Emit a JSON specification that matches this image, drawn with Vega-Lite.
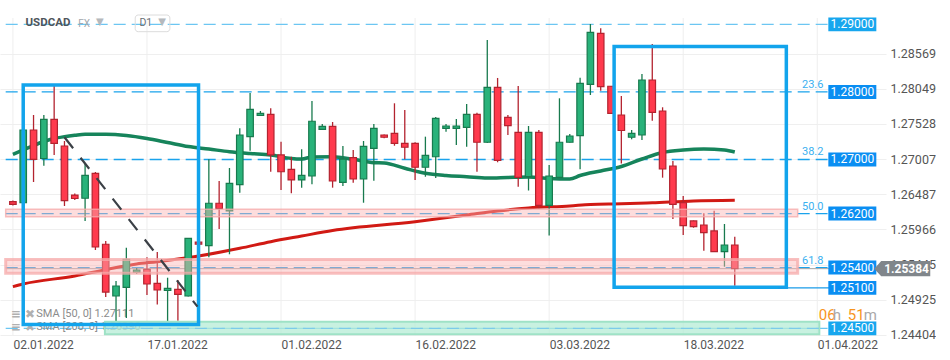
{
  "$schema": "https://vega.github.io/schema/vega-lite/v6.json",
  "width": 886,
  "height": 336,
  "padding": 0,
  "autosize": {"type": "pad"},
  "background": "white",
  "view": {"stroke": null},
  "config": {"font": "Roboto"},
  "datasets": {
    "dates": [
      {"g": 0, "date": "02.01.2022"}, {"g": 13, "date": "17.01.2022"}, {"g": 26, "date": "01.02.2022"},
      {"g": 39, "date": "16.02.2022"}, {"g": 52, "date": "03.03.2022"}, {"g": 65, "date": "18.03.2022"},
      {"g": 78, "date": "01.04.2022"}
    ],
    "candles": [
      {"i": 0, "o": 1.26375, "h": 1.26393, "l": 1.26319, "c": 1.26337},
      {"i": 1, "o": 1.26360, "h": 1.27444, "l": 1.26356, "c": 1.27437},
      {"i": 2, "o": 1.27437, "h": 1.27659, "l": 1.26667, "c": 1.27003},
      {"i": 3, "o": 1.27015, "h": 1.27659, "l": 1.26908, "c": 1.27595},
      {"i": 4, "o": 1.27595, "h": 1.28088, "l": 1.27067, "c": 1.27240},
      {"i": 5, "o": 1.27200, "h": 1.27274, "l": 1.26312, "c": 1.26390},
      {"i": 6, "o": 1.26474, "h": 1.26497, "l": 1.26400, "c": 1.26423},
      {"i": 7, "o": 1.26426, "h": 1.26948, "l": 1.26090, "c": 1.26766},
      {"i": 8, "o": 1.26796, "h": 1.26815, "l": 1.25660, "c": 1.25705},
      {"i": 9, "o": 1.25745, "h": 1.25793, "l": 1.24965, "c": 1.25038},
      {"i": 10, "o": 1.24979, "h": 1.25201, "l": 1.24594, "c": 1.25127},
      {"i": 11, "o": 1.25108, "h": 1.25694, "l": 1.24654, "c": 1.25523},
      {"i": 12, "o": 1.25330, "h": 1.25394, "l": 1.25305, "c": 1.25364},
      {"i": 13, "o": 1.25372, "h": 1.25552, "l": 1.24994, "c": 1.25157},
      {"i": 14, "o": 1.25167, "h": 1.25631, "l": 1.24853, "c": 1.25068},
      {"i": 15, "o": 1.25061, "h": 1.25250, "l": 1.24609, "c": 1.25093},
      {"i": 16, "o": 1.25078, "h": 1.25216, "l": 1.24614, "c": 1.25004},
      {"i": 17, "o": 1.24979, "h": 1.25838, "l": 1.24972, "c": 1.25833},
      {"i": 18, "o": 1.25776, "h": 1.25779, "l": 1.25742, "c": 1.25746},
      {"i": 19, "o": 1.25724, "h": 1.27003, "l": 1.25552, "c": 1.26352},
      {"i": 20, "o": 1.26352, "h": 1.26682, "l": 1.25971, "c": 1.26272},
      {"i": 21, "o": 1.26238, "h": 1.26874, "l": 1.25597, "c": 1.26648},
      {"i": 22, "o": 1.26627, "h": 1.27462, "l": 1.26509, "c": 1.27363},
      {"i": 23, "o": 1.27338, "h": 1.27984, "l": 1.27130, "c": 1.27743},
      {"i": 24, "o": 1.27651, "h": 1.27718, "l": 1.27648, "c": 1.27684},
      {"i": 25, "o": 1.27669, "h": 1.27758, "l": 1.26819, "c": 1.27067},
      {"i": 26, "o": 1.27067, "h": 1.27264, "l": 1.26549, "c": 1.26819},
      {"i": 27, "o": 1.26855, "h": 1.27041, "l": 1.26500, "c": 1.26697},
      {"i": 28, "o": 1.26697, "h": 1.27151, "l": 1.26583, "c": 1.26766},
      {"i": 29, "o": 1.26756, "h": 1.27866, "l": 1.26633, "c": 1.27566},
      {"i": 30, "o": 1.27447, "h": 1.27526, "l": 1.27444, "c": 1.27491},
      {"i": 31, "o": 1.27491, "h": 1.27555, "l": 1.26583, "c": 1.26682},
      {"i": 32, "o": 1.26662, "h": 1.27200, "l": 1.26608, "c": 1.27007},
      {"i": 33, "o": 1.27027, "h": 1.27141, "l": 1.26657, "c": 1.26711},
      {"i": 34, "o": 1.26711, "h": 1.27274, "l": 1.26360, "c": 1.27195},
      {"i": 35, "o": 1.27166, "h": 1.27526, "l": 1.26686, "c": 1.27462},
      {"i": 36, "o": 1.27363, "h": 1.27370, "l": 1.27314, "c": 1.27329},
      {"i": 37, "o": 1.27388, "h": 1.27832, "l": 1.27204, "c": 1.27240},
      {"i": 38, "o": 1.27240, "h": 1.27733, "l": 1.27003, "c": 1.27181},
      {"i": 39, "o": 1.27240, "h": 1.27255, "l": 1.26697, "c": 1.26885},
      {"i": 40, "o": 1.26885, "h": 1.27338, "l": 1.26745, "c": 1.27062},
      {"i": 41, "o": 1.27041, "h": 1.27629, "l": 1.26726, "c": 1.27610},
      {"i": 42, "o": 1.27462, "h": 1.27526, "l": 1.27412, "c": 1.27496},
      {"i": 43, "o": 1.27462, "h": 1.27600, "l": 1.27215, "c": 1.27496},
      {"i": 44, "o": 1.27477, "h": 1.27822, "l": 1.27189, "c": 1.27669},
      {"i": 45, "o": 1.27669, "h": 1.27693, "l": 1.26819, "c": 1.27255},
      {"i": 46, "o": 1.27255, "h": 1.28769, "l": 1.27244, "c": 1.28069},
      {"i": 47, "o": 1.28069, "h": 1.28207, "l": 1.26959, "c": 1.26988},
      {"i": 48, "o": 1.27625, "h": 1.27659, "l": 1.27363, "c": 1.27500},
      {"i": 49, "o": 1.27403, "h": 1.28088, "l": 1.26597, "c": 1.26736},
      {"i": 50, "o": 1.26745, "h": 1.27496, "l": 1.26541, "c": 1.27403},
      {"i": 51, "o": 1.27403, "h": 1.27437, "l": 1.26278, "c": 1.26322},
      {"i": 52, "o": 1.26322, "h": 1.26919, "l": 1.25875, "c": 1.26756},
      {"i": 53, "o": 1.26734, "h": 1.27906, "l": 1.26726, "c": 1.27255},
      {"i": 54, "o": 1.27255, "h": 1.27377, "l": 1.27252, "c": 1.27348},
      {"i": 55, "o": 1.27352, "h": 1.28211, "l": 1.26855, "c": 1.28128},
      {"i": 56, "o": 1.28113, "h": 1.29006, "l": 1.27955, "c": 1.28883},
      {"i": 57, "o": 1.28868, "h": 1.28942, "l": 1.28019, "c": 1.28078},
      {"i": 58, "o": 1.28084, "h": 1.28088, "l": 1.27674, "c": 1.27684},
      {"i": 59, "o": 1.27659, "h": 1.27940, "l": 1.26941, "c": 1.27429},
      {"i": 60, "o": 1.27329, "h": 1.27437, "l": 1.27299, "c": 1.27388},
      {"i": 61, "o": 1.27363, "h": 1.28266, "l": 1.27289, "c": 1.28177},
      {"i": 62, "o": 1.28177, "h": 1.28710, "l": 1.27574, "c": 1.27699},
      {"i": 63, "o": 1.27718, "h": 1.27773, "l": 1.26731, "c": 1.26859},
      {"i": 64, "o": 1.26904, "h": 1.26978, "l": 1.26119, "c": 1.26337},
      {"i": 65, "o": 1.26360, "h": 1.26460, "l": 1.25882, "c": 1.26020},
      {"i": 66, "o": 1.26090, "h": 1.26097, "l": 1.25990, "c": 1.26005},
      {"i": 67, "o": 1.26030, "h": 1.26204, "l": 1.25650, "c": 1.25916},
      {"i": 68, "o": 1.25942, "h": 1.26242, "l": 1.25635, "c": 1.25635},
      {"i": 69, "o": 1.25635, "h": 1.26045, "l": 1.25413, "c": 1.25734},
      {"i": 70, "o": 1.25734, "h": 1.25857, "l": 1.25132, "c": 1.25384}
    ],
    "sma50": [
      {"i": 0, "v": 1.27077}, {"i": 1, "v": 1.27141}, {"i": 2, "v": 1.27207}, {"i": 3, "v": 1.27266},
      {"i": 4, "v": 1.27311}, {"i": 5, "v": 1.27338}, {"i": 6, "v": 1.27358}, {"i": 7, "v": 1.27373},
      {"i": 9, "v": 1.27373}, {"i": 11, "v": 1.27355}, {"i": 13, "v": 1.27311}, {"i": 15, "v": 1.27252},
      {"i": 17, "v": 1.27192}, {"i": 19, "v": 1.27155}, {"i": 21, "v": 1.27115}, {"i": 23, "v": 1.27089},
      {"i": 25, "v": 1.27067}, {"i": 27, "v": 1.27015}, {"i": 28, "v": 1.27007}, {"i": 29, "v": 1.27037},
      {"i": 31, "v": 1.27041}, {"i": 33, "v": 1.27003}, {"i": 35, "v": 1.26953}, {"i": 36, "v": 1.26948},
      {"i": 38, "v": 1.26870}, {"i": 40, "v": 1.26796}, {"i": 42, "v": 1.26763}, {"i": 44, "v": 1.26745},
      {"i": 46, "v": 1.26726}, {"i": 48, "v": 1.26734}, {"i": 50, "v": 1.26741}, {"i": 52, "v": 1.26719},
      {"i": 54, "v": 1.26711}, {"i": 55, "v": 1.26763}, {"i": 57, "v": 1.26830}, {"i": 59, "v": 1.26896},
      {"i": 61, "v": 1.27007}, {"i": 63, "v": 1.27104}, {"i": 65, "v": 1.27141}, {"i": 67, "v": 1.27155},
      {"i": 69, "v": 1.27141}, {"i": 70, "v": 1.27111}
    ],
    "sma200": [
      {"i": 0, "v": 1.25117}, {"i": 1, "v": 1.25157}, {"i": 6, "v": 1.25275}, {"i": 9, "v": 1.25369},
      {"i": 12, "v": 1.25453}, {"i": 14, "v": 1.25487}, {"i": 18, "v": 1.25571}, {"i": 22, "v": 1.25685},
      {"i": 25, "v": 1.25783}, {"i": 28, "v": 1.25867}, {"i": 31, "v": 1.25949}, {"i": 39, "v": 1.26079},
      {"i": 44, "v": 1.26178}, {"i": 47, "v": 1.26238}, {"i": 50, "v": 1.26282}, {"i": 54, "v": 1.26312},
      {"i": 56, "v": 1.26334}, {"i": 59, "v": 1.26344}, {"i": 62, "v": 1.26360}, {"i": 66, "v": 1.26386},
      {"i": 70, "v": 1.26396}
    ],
    "levels": [
      {"p": 1.29, "tag": "1.29000", "fib": ""},
      {"p": 1.28, "tag": "1.28000", "fib": "23.6"},
      {"p": 1.27, "tag": "1.27000", "fib": "38.2"},
      {"p": 1.262, "tag": "1.26200", "fib": "50.0"},
      {"p": 1.254, "tag": "1.25400", "fib": "61.8"},
      {"p": 1.251, "tag": "1.25100", "fib": ""},
      {"p": 1.245, "tag": "1.24500", "fib": ""}
    ],
    "pinkbands": [
      {"start": -0.7, "end": 76.1, "lo": 1.26153, "hi": 1.26263, "w": 1.5},
      {"start": -0.7, "end": 76.1, "lo": 1.25317, "hi": 1.25520, "w": 3}
    ],
    "greenband": [
      {"start": 8.92, "end": 78.2, "lo": 1.24413, "hi": 1.24599}
    ],
    "boxes": [
      {"start": 1.0, "end": 18.0, "top": 1.28103, "bottom": 1.24557},
      {"start": 58.3, "end": 75.0, "top": 1.28673, "bottom": 1.25108}
    ],
    "legend": [
      {"name": "SMA  [50,  0]  1.27111", "p": 1.24717},
      {"name": "SMA  [200,  0]  1.26390", "p": 1.24513}
    ]
  },
  "layer": [
    {
      "data": {"name": "dates"},
      "mark": {"type": "rule", "color": "#eeeeee", "strokeWidth": 1},
      "encoding": {
        "x": {"field": "g", "type": "quantitative"},
        "y": {"datum": 1.29095},
        "y2": {"datum": 1.24387}
      }
    },
    {
      "data": {"name": "levels"},
      "transform": [{"filter": "datum.p != 1.251"}],
      "mark": {"type": "rule", "strokeWidth": 1.3, "strokeDash": [12, 6]},
      "encoding": {
        "x": {"datum": -0.7},
        "x2": {"datum": 79.0},
        "y": {"field": "p", "type": "quantitative"},
        "color": {"condition": {"test": "datum.p == 1.29 || datum.p == 1.245", "value": "#6cc6f2"}, "value": "#1aa3ec"}
      }
    },
    {
      "data": {"values": [{"price": 1.25384}]},
      "mark": {"type": "rule", "color": "#a3a3a3", "strokeWidth": 1},
      "encoding": {
        "x": {"datum": -0.7},
        "x2": {"datum": 84.8},
        "y": {"field": "price", "type": "quantitative"}
      }
    },
    {
      "data": {"name": "legend"},
      "mark": {"type": "text", "align": "left", "baseline": "middle", "fontSize": 11, "color": "#8c8c8c"},
      "encoding": {
        "x": {"datum": 2.27},
        "y": {"field": "p", "type": "quantitative"},
        "text": {"field": "name"}
      }
    },
    {
      "data": {"name": "legend"},
      "mark": {"type": "text", "align": "left", "baseline": "middle", "fontSize": 12, "fontWeight": "bold", "color": "#b0b0b0", "font": "DejaVu Sans"},
      "encoding": {
        "x": {"datum": -0.2},
        "y": {"field": "p", "type": "quantitative"},
        "text": {"value": "≡ ✖"}
      }
    },
    {
      "data": {"name": "sma200"},
      "mark": {"type": "line", "color": "#d11a14", "strokeWidth": 3, "interpolate": "monotone"},
      "encoding": {
        "x": {"field": "i", "type": "quantitative"},
        "y": {"field": "v", "type": "quantitative"}
      }
    },
    {
      "data": {"name": "sma50"},
      "mark": {"type": "line", "color": "#16845b", "strokeWidth": 3.5, "interpolate": "monotone"},
      "encoding": {
        "x": {"field": "i", "type": "quantitative"},
        "y": {"field": "v", "type": "quantitative"}
      }
    },
    {
      "data": {"name": "candles"},
      "mark": {"type": "rule", "strokeWidth": 1.3},
      "encoding": {
        "x": {
          "field": "i", "type": "quantitative",
          "scale": {"type": "linear", "domain": [-0.767, 84.18], "nice": false, "zero": false},
          "axis": {
            "title": null, "values": [0, 13, 26, 39, 52, 65, 78], "grid": false, "domain": false, "ticks": false,
            "labelAlign": "left", "labelFontSize": 12, "labelColor": "#555555", "labelPadding": 3,
            "labelFlush": false, "labelOverlap": false, "labelBound": false, "zindex": 0,
            "labelExpr": "datum.value == 0 ? '02.01.2022' : datum.value == 13 ? '17.01.2022' : datum.value == 26 ? '01.02.2022' : datum.value == 39 ? '16.02.2022' : datum.value == 52 ? '03.03.2022' : datum.value == 65 ? '18.03.2022' : datum.value == 78 ? '01.04.2022' : ''"
          }
        },
        "y": {
          "field": "l", "type": "quantitative",
          "scale": {"type": "linear", "domain": [1.243871, 1.293612], "nice": false, "zero": false},
          "axis": {
            "title": null, "orient": "right",
            "values": [1.24404, 1.24925, 1.25445, 1.25966, 1.26487, 1.27007, 1.27528, 1.28049, 1.28569],
            "format": ".5f", "grid": true, "gridColor": "#efefef", "domain": false, "ticks": false,
            "labelFontSize": 12.5, "labelColor": "#555555", "labelPadding": 4, "labelFlush": false,
            "labelOverlap": false, "labelBound": false, "zindex": 0
          }
        },
        "y2": {"field": "h"},
        "color": {"condition": {"test": "datum.c >= datum.o", "value": "#187a4e"}, "value": "#b3232f"}
      }
    },
    {
      "data": {"name": "candles"},
      "mark": {"type": "bar", "width": 6.5, "orient": "vertical", "strokeWidth": 1.2},
      "encoding": {
        "x": {"field": "i", "type": "quantitative"},
        "y": {"field": "o", "type": "quantitative"},
        "y2": {"field": "c"},
        "fill": {"condition": {"test": "datum.c >= datum.o", "value": "#29b27a"}, "value": "#ff3a4d"},
        "stroke": {"condition": {"test": "datum.c >= datum.o", "value": "#187a4e"}, "value": "#b3232f"}
      }
    },
    {
      "data": {"name": "pinkbands"},
      "mark": {"type": "rect", "fill": "#fbb4b4", "fillOpacity": 0.45, "stroke": "#f6a9a9", "strokeOpacity": 0.75},
      "encoding": {
        "x": {"field": "start", "type": "quantitative"},
        "x2": {"field": "end"},
        "y": {"field": "lo", "type": "quantitative"},
        "y2": {"field": "hi"},
        "strokeWidth": {"field": "w", "type": "quantitative", "scale": null}
      }
    },
    {
      "data": {"name": "greenband"},
      "mark": {"type": "rect", "fill": "#b5ecd6", "fillOpacity": 0.75, "stroke": "#9fe2c6", "strokeWidth": 2},
      "encoding": {
        "x": {"field": "start", "type": "quantitative"},
        "x2": {"field": "end"},
        "y": {"field": "lo", "type": "quantitative"},
        "y2": {"field": "hi"}
      }
    },
    {
      "data": {"values": [{"p": 1.245}]},
      "mark": {"type": "rule", "strokeWidth": 1.3, "strokeDash": [12, 6], "color": "#7ccbea"},
      "encoding": {
        "x": {"datum": 8.92},
        "x2": {"datum": 78.2},
        "y": {"field": "p", "type": "quantitative"}
      }
    },
    {
      "data": {"name": "boxes"},
      "mark": {"type": "rect", "fill": "white", "fillOpacity": 0, "stroke": "#12a4ec", "strokeWidth": 3.5},
      "encoding": {
        "x": {"field": "start", "type": "quantitative"},
        "x2": {"field": "end"},
        "y": {"field": "top", "type": "quantitative"},
        "y2": {"field": "bottom"}
      }
    },
    {
      "data": {"values": [{"from": 5, "to": 17.9, "p0": 1.27329, "p1": 1.24821}]},
      "mark": {"type": "rule", "color": "#3b4046", "strokeWidth": 2.2, "strokeDash": [14, 12]},
      "encoding": {
        "x": {"field": "from", "type": "quantitative"},
        "x2": {"field": "to"},
        "y": {"field": "p0", "type": "quantitative"},
        "y2": {"field": "p1"}
      }
    },
    {
      "data": {"values": [{"p": 1.251}]},
      "mark": {"type": "rule", "color": "#1a9be8", "strokeWidth": 1.2},
      "encoding": {
        "x": {"datum": 74.2},
        "x2": {"datum": 79.2},
        "y": {"field": "p", "type": "quantitative"}
      }
    },
    {
      "data": {"name": "levels"},
      "transform": [{"filter": "datum.fib != ''"}],
      "mark": {"type": "text", "align": "right", "baseline": "alphabetic", "dy": -4, "fontSize": 11, "color": "#3ab0f0"},
      "encoding": {
        "x": {"datum": 78.6},
        "y": {"field": "p", "type": "quantitative"},
        "text": {"field": "fib"}
      }
    },
    {
      "data": {"name": "levels"},
      "mark": {"type": "point", "shape": "M -1 -0.29 L 1 -0.29 L 1 0.29 L -1 0.29 Z", "size": 2304, "filled": true, "opacity": 1, "strokeWidth": 0},
      "encoding": {
        "x": {"datum": 81.4},
        "y": {"field": "p", "type": "quantitative"},
        "color": {"condition": {"test": "datum.p == 1.29 || datum.p == 1.245", "value": "#17a6ee"}, "value": "#0a8ef2"}
      }
    },
    {
      "data": {"name": "levels"},
      "mark": {"type": "text", "align": "center", "baseline": "middle", "fontSize": 12, "color": "white"},
      "encoding": {
        "x": {"datum": 81.4},
        "y": {"field": "p", "type": "quantitative"},
        "text": {"field": "tag"}
      }
    },
    {
      "data": {"values": [{"price": 1.25384, "label": "1.25384"}]},
      "mark": {"type": "point", "shape": "M -1 0 L -0.75 -0.27 L 1 -0.27 L 1 0.27 L -0.75 0.27 Z", "size": 3136, "filled": true, "opacity": 1, "color": "#80868b", "strokeWidth": 0},
      "encoding": {
        "x": {"datum": 86.24},
        "y": {"field": "price", "type": "quantitative"}
      }
    },
    {
      "data": {"values": [{"price": 1.25384, "label": "1.25384"}]},
      "mark": {"type": "text", "align": "center", "baseline": "middle", "fontSize": 12, "fontWeight": "bold", "color": "white"},
      "encoding": {
        "x": {"datum": 86.66},
        "y": {"field": "price", "type": "quantitative"},
        "text": {"field": "label"}
      }
    },
    {
      "data": {"values": [{"part": "06", "kind": "n", "off": 0}, {"part": "h", "kind": "u", "off": 14}, {"part": "51", "kind": "n", "off": 29}, {"part": "m", "kind": "u", "off": 45}]},
      "mark": {"type": "text", "align": "left", "baseline": "middle", "fontSize": 15},
      "encoding": {
        "x": {"datum": 78.14},
        "y": {"datum": 1.24698},
        "xOffset": {"field": "off", "type": "quantitative", "scale": null},
        "text": {"field": "part"},
        "color": {"condition": {"test": "datum.kind == 'n'", "value": "#f7941d"}, "value": "#a9a9a9"}
      }
    },
    {
      "data": {"values": [{"t": "USDCAD"}]},
      "mark": {"type": "text", "align": "left", "baseline": "middle", "fontSize": 11.5, "fontWeight": "bold", "color": "#4f555b"},
      "encoding": {"x": {"datum": 1.22}, "y": {"datum": 1.29021}, "text": {"field": "t"}}
    },
    {
      "data": {"values": [{"t": "FX"}]},
      "mark": {"type": "text", "align": "left", "baseline": "middle", "fontSize": 10, "color": "#a3a8ad"},
      "encoding": {"x": {"datum": 6.33}, "y": {"datum": 1.29010}, "text": {"field": "t"}}
    },
    {
      "data": {"values": [{"x0": 11.86, "x1": 15.22, "p0": 1.29139, "p1": 1.28892}]},
      "mark": {"type": "rect", "fill": "white", "fillOpacity": 0, "stroke": "#dcdcdc", "strokeWidth": 1, "cornerRadius": 3},
      "encoding": {
        "x": {"field": "x0", "type": "quantitative"},
        "x2": {"field": "x1"},
        "y": {"field": "p0", "type": "quantitative"},
        "y2": {"field": "p1"}
      }
    },
    {
      "data": {"values": [{"t": "D1"}]},
      "mark": {"type": "text", "align": "left", "baseline": "middle", "fontSize": 10.5, "color": "#6a6f74"},
      "encoding": {"x": {"datum": 12.27}, "y": {"datum": 1.29015}, "text": {"field": "t"}}
    },
    {
      "data": {"values": [{"a": 8.05}, {"a": 14.09}]},
      "mark": {"type": "text", "align": "left", "baseline": "middle", "fontSize": 10, "color": "#b5b9bd", "font": "DejaVu Sans"},
      "encoding": {"x": {"field": "a", "type": "quantitative"}, "y": {"datum": 1.29030}, "text": {"value": "▼"}}
    }
  ]
}
